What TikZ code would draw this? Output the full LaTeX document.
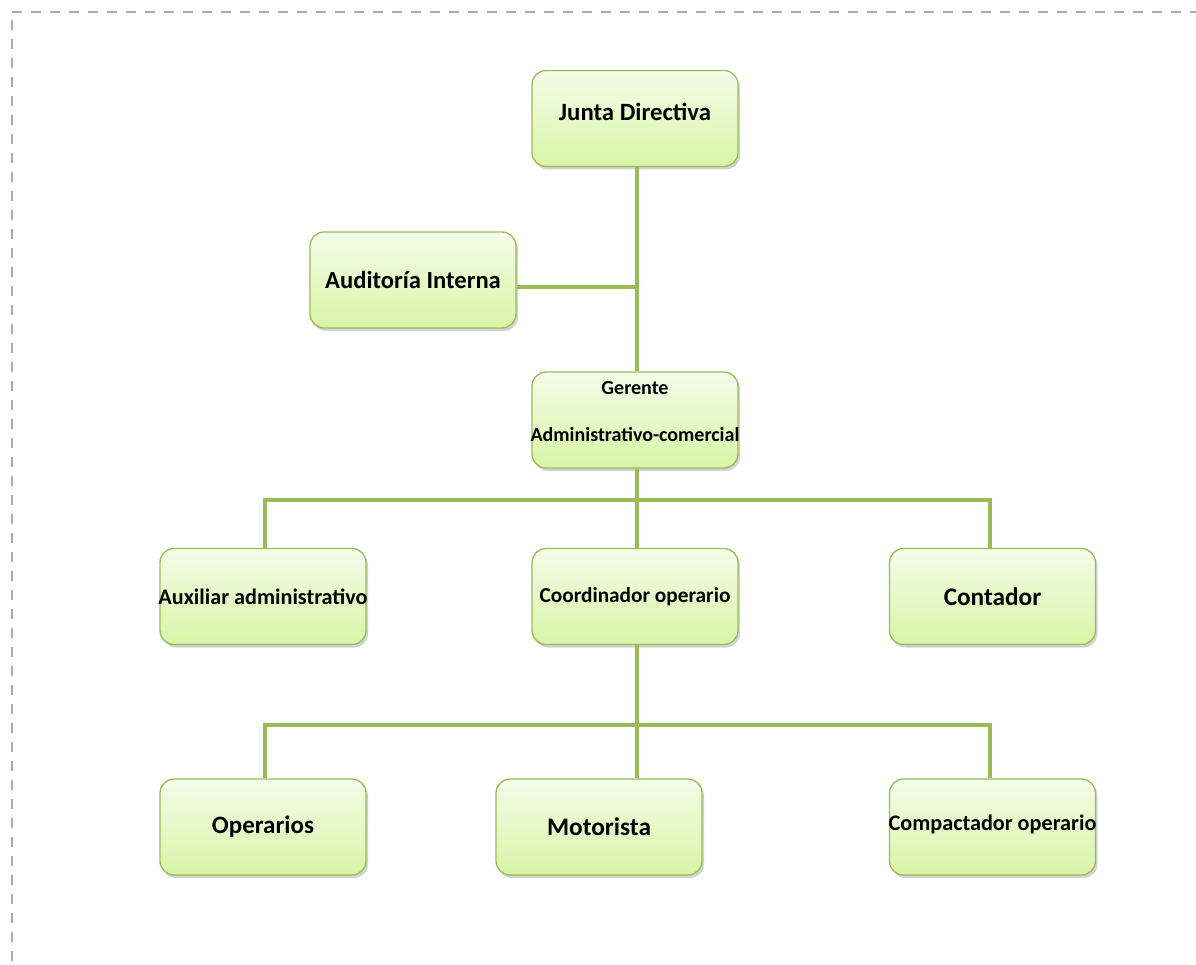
\documentclass[tikz,border=0pt]{standalone}
\usepackage{fontspec}
\setmainfont{Carlito}
\usetikzlibrary{shadows,calc}
\definecolor{lineg}{HTML}{9BBB59}
\definecolor{boxtop}{HTML}{F4FCE9}
\definecolor{boxbot}{HTML}{D8F5A6}
\definecolor{dashg}{HTML}{ABABAB}
\tikzset{
  orgbox/.style={draw=lineg, line width=1.3pt, rounded corners=14pt,
    top color=boxtop, bottom color=boxbot,
    minimum width=206pt, minimum height=96pt, inner sep=0pt,
    font=\bfseries,
    drop shadow={opacity=0.35, shadow xshift=2pt, shadow yshift=-3pt}},
  conn/.style={draw=lineg, line width=4pt},
}
\begin{document}
\begin{tikzpicture}[x=1pt,y=-1pt]
\useasboundingbox (0,0) rectangle (1196,965);
\draw[dashg, line width=1.3pt, dash pattern=on 10pt off 9pt] (12,12) -- (1196,12);
\draw[dashg, line width=1.3pt, dash pattern=on 10pt off 9pt] (12,20) -- (12,965);

\coordinate (jdx) at (637,166);
\coordinate (b1) at (637,500);
\coordinate (b2) at (637,725);
\coordinate (audj) at (637,287);

\node[orgbox, font=\bfseries\fontsize{24.8}{29}\selectfont] (jd) at (635,118.5) {\raisebox{14pt}{Junta Directiva}};
\node[orgbox, font=\bfseries\fontsize{24.6}{29}\selectfont] (ai) at (413,280) {Auditoría Interna};
\node[orgbox] (ger) at (635,420) {};
\node[font=\bfseries\fontsize{20}{24}\selectfont, align=center, inner sep=0pt] (gert) at (635,412) {Gerente\\[23pt]\makebox[0pt]{Administrativo-comercial}};
\node[orgbox, font=\bfseries\fontsize{22.2}{26}\selectfont] (aux) at (263,596.5) {\makebox[0pt]{Auxiliar administrativo}};
\node[orgbox, font=\bfseries\fontsize{21.3}{25}\selectfont] (coo) at (635,596.5) {\makebox[0pt]{Coordinador operario}};
\node[orgbox, font=\bfseries\fontsize{25.3}{30}\selectfont] (con) at (992.5,596.5) {Contador};
\node[orgbox, font=\bfseries\fontsize{25}{30}\selectfont] (ope) at (263,827) {Operarios};
\node[orgbox, font=\bfseries\fontsize{25.3}{30}\selectfont] (mot) at (599,827) {Motorista};
\node[orgbox, font=\bfseries\fontsize{22.2}{26}\selectfont] (com) at (992.5,827) {\makebox[0pt]{\raisebox{8pt}{Compactador operario}}};

\draw[conn] (jd.south -| jdx) -- (ger.north -| jdx);
\draw[conn] (ai.east |- audj) -- (audj);
\draw[conn] (ger.south -| b1) -- (coo.north -| b1);
\draw[conn] (aux.north -| 265,0) -- (265,500) -- (990,500) -- (con.north -| 990,0);
\draw[conn] (coo.south -| b2) -- (mot.north -| b2);
\draw[conn] (ope.north -| 265,0) -- (265,725) -- (990,725) -- (com.north -| 990,0);
\end{tikzpicture}
\end{document}
